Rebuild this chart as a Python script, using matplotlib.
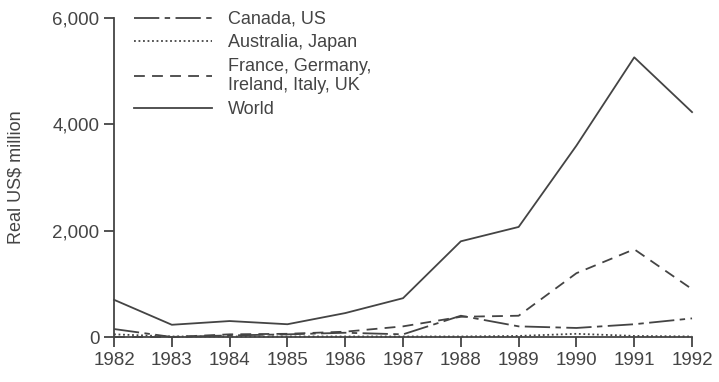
import numpy as np
import matplotlib.pyplot as plt

years = list(range(1982, 1993))
canada_us = [150, 0, 30, 50, 80, 50, 400, 200, 170, 240, 350]
australia_japan = [50, 10, 10, 10, 10, 10, 10, 20, 60, 20, 10]
europe = [0, 0, 50, 60, 100, 200, 380, 400, 1200, 1650, 900]
world = [700, 230, 300, 240, 450, 730, 1800, 2070, 3600, 5260, 4230]

ink = "#444444"
plt.rcParams["font.family"] = ["Liberation Sans", "DejaVu Sans"]

fig = plt.figure(figsize=(7.19, 3.82), dpi=100)
ax = fig.add_axes([0.1586, 0.1178, 0.8039, 0.8351])

ax.plot(years, canada_us, color=ink, lw=1.3, dashes=(14, 3, 3, 3), label="Canada, US", clip_on=False)
ax.plot(years, australia_japan, color=ink, lw=1.3, ls=(0, (1, 1.5)), label="Australia, Japan", clip_on=False)
ax.plot(years, europe, color=ink, lw=1.3, dashes=(6, 4), label="France, Germany,\nIreland, Italy, UK", clip_on=False)
ax.plot(years, world, color=ink, lw=1.3, label="World", clip_on=False)

ax.set_xlim(1982, 1992)
ax.set_ylim(0, 6000)
ax.set_xticks(years)
ax.set_yticks([0, 2000, 4000, 6000])
ax.set_yticklabels(["0", "2,000", "4,000", "6,000"])
ax.set_ylabel("Real US$ million", color=ink, fontsize=13, labelpad=20)
ax.spines["top"].set_visible(False)
ax.spines["right"].set_visible(False)
for s in ("left", "bottom"):
    ax.spines[s].set_color(ink)
    ax.spines[s].set_linewidth(1.3)
ax.tick_params(colors=ink, labelsize=13.5, width=1.3, length=7)
ax.tick_params(axis="x", direction="out", pad=4)

ax.legend(loc="upper left", bbox_to_anchor=(0.022, 1.045), frameon=False, fontsize=13,
          handlelength=4.3, handletextpad=0.9, labelspacing=0.36, labelcolor=ink,
          borderaxespad=0)

fig.savefig("out.png", dpi=100)
